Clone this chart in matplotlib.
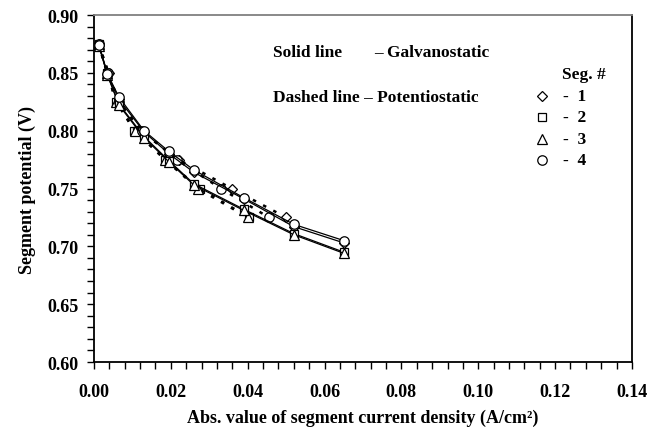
import matplotlib
matplotlib.use("Agg")
import matplotlib.pyplot as plt
from matplotlib.ticker import MultipleLocator

plt.rcParams["font.family"] = ["Liberation Serif", "DejaVu Serif"]
plt.rcParams["font.weight"] = "bold"

# galvanostatic (solid): same current on every segment
galv_i = [0.0013, 0.0035, 0.0065, 0.013, 0.0195, 0.026, 0.039, 0.052, 0.065]
galv_seg1 = [0.874, 0.849, 0.827, 0.799, 0.780, 0.764, 0.741, 0.717, 0.703]
galv_seg2 = [0.874, 0.848, 0.823, 0.795, 0.774, 0.754, 0.732, 0.711, 0.695]
galv_seg3 = [0.873, 0.848, 0.822, 0.794, 0.773, 0.753, 0.731, 0.710, 0.694]
galv_seg4 = [0.874, 0.849, 0.829, 0.800, 0.782, 0.766, 0.742, 0.719, 0.705]

# potentiostatic (dashed): same potential on every segment
pot_v = [0.875, 0.85, 0.825, 0.80, 0.775, 0.75, 0.725]
pot_seg1 = [0.0012, 0.0038, 0.0063, 0.0120, 0.0220, 0.0358, 0.0500]
pot_seg2 = [0.0012, 0.0034, 0.0058, 0.0105, 0.0185, 0.0275, 0.0403]
pot_seg3 = [0.0012, 0.0034, 0.0058, 0.0107, 0.0185, 0.0270, 0.0400]
pot_seg4 = [0.0012, 0.0037, 0.0064, 0.0125, 0.0215, 0.0330, 0.0455]

seg_labels = ["1", "2", "3", "4"]
seg_markers = ["D", "s", "^", "o"]
seg_msize = [5.2, 6.2, 6.8, 6.8]

fig = plt.figure(figsize=(6.63, 4.35), dpi=100)
ax = fig.add_axes([0.1418, 0.1655, 0.8114, 0.7977])

galv = [galv_seg1, galv_seg2, galv_seg3, galv_seg4]
pot = [pot_seg1, pot_seg2, pot_seg3, pot_seg4]
for k in range(4):
    ax.plot(pot[k], pot_v, color="black", lw=1.8, dashes=(1.4, 3.2),
            marker=seg_markers[k], ms=seg_msize[k], mfc="white", mec="black",
            mew=0.9, zorder=2)
for k in range(4):
    ax.plot(galv_i, galv[k], color="black", lw=0.9, ls="-",
            marker=seg_markers[k], ms=seg_msize[k], mfc="white", mec="black",
            mew=0.9, zorder=3)

ax.set_xlim(0, 0.14)
ax.set_ylim(0.60, 0.90)
ax.xaxis.set_major_locator(MultipleLocator(0.02))
ax.xaxis.set_minor_locator(MultipleLocator(0.004))
ax.yaxis.set_major_locator(MultipleLocator(0.05))
ax.yaxis.set_minor_locator(MultipleLocator(0.01))
ax.xaxis.set_major_formatter(plt.FuncFormatter(lambda v, p: f"{v:.2f}"))
ax.yaxis.set_major_formatter(plt.FuncFormatter(lambda v, p: f"{v:.2f}"))
ax.tick_params(which="both", direction="out", length=5, width=1, top=False, right=False)
ax.tick_params(axis="x", labelsize=13, pad=10)
ax.tick_params(axis="y", labelsize=13, pad=6)
for lab in ax.get_xticklabels() + ax.get_yticklabels():
    lab.set_fontweight("bold")
for s in ["left", "bottom", "right"]:
    ax.spines[s].set_linewidth(1.3)
ax.spines["top"].set_color("#808080")
ax.spines["top"].set_linewidth(1.3)

ax.set_xlabel("Abs. value of segment current density (A/cm\u00b2)",
              fontsize=13, fontweight="bold")
ax.xaxis.set_label_coords(0.5, -0.135)
ax.set_ylabel("Segment potential (V)", fontsize=13, fontweight="bold", labelpad=8)

ax.text(0.332, 0.893, "Solid line", transform=ax.transAxes, fontsize=12.5,
        fontweight="bold", va="center")
ax.text(0.521, 0.893, "\u2013 Galvanostatic", transform=ax.transAxes, fontsize=12.5,
        fontweight="bold", va="center")
ax.text(0.332, 0.764, "Dashed line \u2013 Potentiostatic", transform=ax.transAxes,
        fontsize=12.5, fontweight="bold", va="center")

# legend block
ax.text(0.870, 0.830, "Seg. #", transform=ax.transAxes, fontsize=12.5,
        fontweight="bold", va="center")
rows = [0.767, 0.705, 0.643, 0.582]
for k in range(4):
    ax.plot([0.832], [rows[k]], transform=ax.transAxes, marker=seg_markers[k],
            ms=seg_msize[k], mfc="white", mec="black", mew=0.9, ls="none",
            clip_on=False)
    ax.text(0.872, rows[k], "-  " + seg_labels[k], transform=ax.transAxes,
            fontsize=12.5, fontweight="bold", va="center")

fig.savefig("out.png", dpi=100)
